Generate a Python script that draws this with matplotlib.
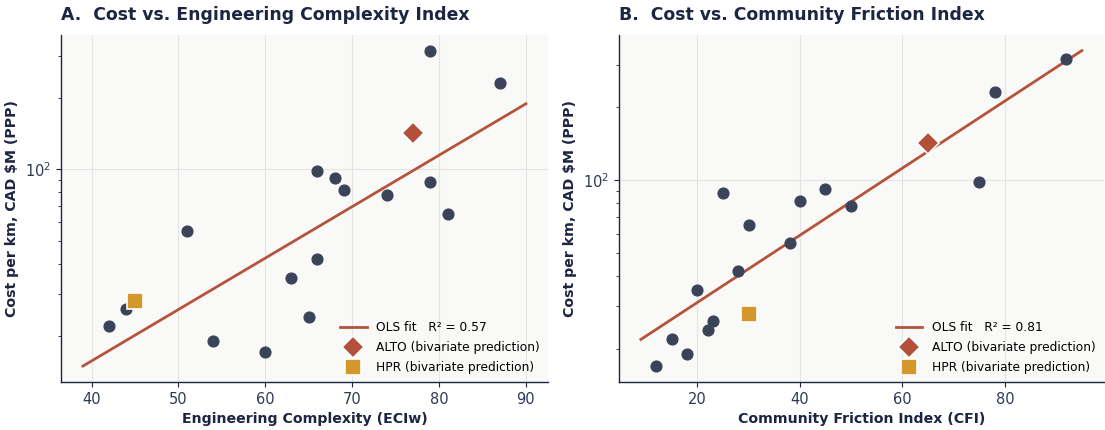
import matplotlib
matplotlib.use("Agg")
import matplotlib.pyplot as plt
import numpy as np

# --- datos: coste por km (compartido) e índices por proyecto ---
cost = np.array([315, 230, 98, 92, 82, 78, 88, 65, 55, 42, 35, 26, 24, 22, 19, 17])
eci = np.array([79, 87, 66, 68, 69, 74, 79, 81, 51, 66, 63, 44, 65, 42, 54, 60])
cfi = np.array([92, 78, 75, 45, 40, 50, 25, 30, 38, 28, 20, 23, 22, 15, 18, 12])

alto_eci, alto_cost_a = 77, 142
hpr_eci, hpr_cost_a = 45, 28
alto_cfi, alto_cost_b = 65, 142
hpr_cfi, hpr_cost_b = 30, 28

r2_a = "0.57"
r2_b = "0.81"

NAVY = "#1c2541"
DOT = "#3a4358"
RUST = "#b5533c"
GOLD = "#d4972a"

fig = plt.figure(figsize=(11.05, 4.3), dpi=100)
ax1 = fig.add_axes([0.055, 0.112, 0.441, 0.807])
ax2 = fig.add_axes([0.560, 0.112, 0.439, 0.807])


def panel(ax, x, xa, ya, xh, yh, r2, title, xlabel):
    ax.set_facecolor("#f9f9f7")
    ax.set_yscale("log")
    ax.grid(True, which="major", color="#e4e4e4", linewidth=0.8)
    ax.set_axisbelow(True)
    for s in ["top", "right"]:
        ax.spines[s].set_visible(False)
    for s in ["left", "bottom"]:
        ax.spines[s].set_color(NAVY)
        ax.spines[s].set_linewidth(1.0)

    ax.scatter(x, cost, s=60, color=DOT, zorder=3)
    b, a = np.polyfit(x, np.log10(cost), 1)
    xs = np.linspace(x.min() - 3, x.max() + 3, 100)
    ax.plot(xs, 10 ** (a + b * xs), color=RUST, lw=2, zorder=2,
            label=f"OLS fit   R² = {r2}")
    ax.plot([xa], [ya], ls="none", marker="D", ms=11, color="#b44f3a", mec="white",
            mew=1.2, zorder=4, label="ALTO (bivariate prediction)")
    ax.plot([xh], [yh], ls="none", marker="s", ms=11, color=GOLD, mec="white",
            mew=1.2, zorder=4, label="HPR (bivariate prediction)")

    ax.set_title(title, loc="left", fontsize=12.4, fontweight="bold", color=NAVY, pad=11)
    ax.set_xlabel(xlabel, fontsize=10.2, fontweight="bold", color=NAVY)
    ax.set_ylabel("Cost per km, CAD $M (PPP)", fontsize=10.2, fontweight="bold", color=NAVY)
    ax.tick_params(axis="both", which="both", colors=NAVY, labelcolor="#2e3a55", labelsize=10.5)
    ax.legend(loc="lower right", frameon=False, fontsize=8.8, handlelength=2.2,
              labelspacing=0.55, borderaxespad=0.25)


panel(ax1, eci, alto_eci, alto_cost_a, hpr_eci, hpr_cost_a, r2_a,
      "A.  Cost vs. Engineering Complexity Index", "Engineering Complexity (ECIw)")
panel(ax2, cfi, alto_cfi, alto_cost_b, hpr_cfi, hpr_cost_b, r2_b,
      "B.  Cost vs. Community Friction Index", "Community Friction Index (CFI)")

fig.savefig("out.png", dpi=100)
